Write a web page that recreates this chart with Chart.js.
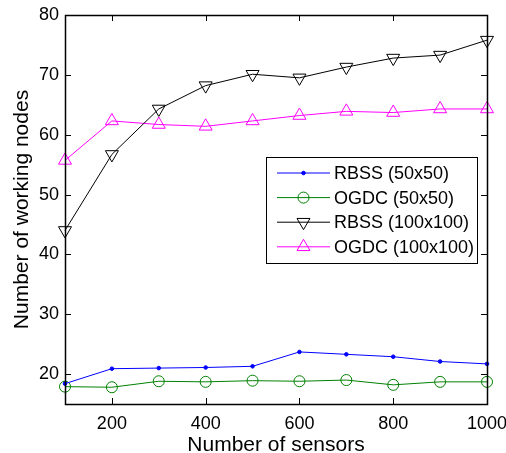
<!DOCTYPE html>
<html>
<head>
<meta charset="utf-8">
<script src="https://cdn.jsdelivr.net/npm/chart.js@4"></script>
<style>
html,body{margin:0;padding:0;background:#fff;}
#wrap{width:506px;height:453px;position:relative;}
</style>
</head>
<body>
<div id="wrap"><canvas id="c" width="506" height="453"></canvas></div>
<script>
const sensors = [100, 200, 300, 400, 500, 600, 700, 800, 900, 1000];
const rbss50 = [18.4, 20.9, 21.0, 21.1, 21.3, 23.7, 23.3, 22.9, 22.1, 21.7];
const ogdc50 = [17.9, 17.8, 18.8, 18.7, 18.9, 18.8, 19.0, 18.2, 18.7, 18.7];
const rbss100 = [44.0, 56.7, 64.3, 68.2, 70.1, 69.5, 71.3, 72.8, 73.3, 75.8];
const ogdc100 = [55.7, 62.3, 61.7, 61.4, 62.3, 63.2, 63.9, 63.7, 64.3, 64.3];
const xTicks = [200, 400, 600, 800, 1000];
const yTicks = [20, 30, 40, 50, 60, 70, 80];
const seriesNames = ['RBSS (50x50)', 'OGDC (50x50)', 'RBSS (100x100)', 'OGDC (100x100)'];

const FONT = 'Arial, "Liberation Sans", Helvetica, sans-serif';

function pts(ys){ return sensors.map((x,i)=>({x:x,y:ys[i]})); }

function mk(label, data, color, style, radius, rotation, fill){
  return {
    label: label, data: pts(data), borderColor: color, backgroundColor: fill || 'rgba(0,0,0,0)',
    borderWidth: 1, pointStyle: style, pointRadius: radius, pointHoverRadius: radius,
    pointRotation: rotation, pointBorderColor: color, pointBackgroundColor: fill || 'rgba(0,0,0,0)',
    pointBorderWidth: 1, tension: 0, clip: false
  };
}

const boxPlugin = {
  id: 'boxPlugin',
  afterDraw(chart){
    const ctx = chart.ctx, a = chart.chartArea;
    const xs = chart.scales.x, ys = chart.scales.y;
    ctx.save();
    ctx.strokeStyle = '#000';
    ctx.lineWidth = 1;
    ctx.beginPath();
    const tl = 6;
    xTicks.forEach(v=>{
      const px = Math.round(xs.getPixelForValue(v)) + 0.5;
      ctx.moveTo(px, a.bottom); ctx.lineTo(px, a.bottom - tl);
      ctx.moveTo(px, a.top); ctx.lineTo(px, a.top + tl);
    });
    yTicks.forEach(v=>{
      const py = Math.round(ys.getPixelForValue(v)) + 0.5;
      ctx.moveTo(a.left, py); ctx.lineTo(a.left + tl, py);
      ctx.moveTo(a.right, py); ctx.lineTo(a.right - tl, py);
    });
    ctx.stroke();
    ctx.lineWidth = 1.5;
    ctx.strokeRect(Math.round(a.left)+0.5, Math.round(a.top)+0.5, Math.round(a.right-a.left), Math.round(a.bottom-a.top));
    // legend
    const lx = a.left + 201, ly = a.top + 142, lw = 211, lh = 106;
    ctx.fillStyle = '#fff';
    ctx.fillRect(lx, ly, lw, lh);
    ctx.strokeStyle = '#000';
    ctx.lineWidth = 1;
    ctx.strokeRect(lx + 0.5, ly + 0.5, lw, lh);
    ctx.font = '18px ' + FONT;
    ctx.textBaseline = 'middle';
    ctx.textAlign = 'left';
    chart.data.datasets.forEach((ds, i)=>{
      const yy = ly + 16 + i * 24.6;
      ctx.strokeStyle = ds.borderColor;
      ctx.lineWidth = 1;
      ctx.beginPath();
      ctx.moveTo(lx + 11, yy); ctx.lineTo(lx + 64, yy);
      ctx.stroke();
      ctx.strokeStyle = ds.pointBorderColor;
      ctx.fillStyle = ds.pointBackgroundColor;
      Chart.helpers.drawPoint(ctx, {
        pointStyle: ds.pointStyle, radius: ds.pointRadius, rotation: ds.pointRotation,
        borderWidth: 1
      }, lx + 37.5, yy);
      ctx.fillStyle = '#000';
      ctx.fillText(ds.label, lx + 68, yy + 1);
    });
    ctx.restore();
  }
};

new Chart(document.getElementById('c'), {
  type: 'line',
  data: {
    datasets: [
      mk(seriesNames[0], rbss50, '#0000ff', 'circle', 1.8, 0, '#0000ff'),
      mk(seriesNames[1], ogdc50, '#008000', 'circle', 5.5, 0),
      mk(seriesNames[2], rbss100, '#000000', 'triangle', 7.5, 180),
      mk(seriesNames[3], ogdc100, '#ff00ff', 'triangle', 7.5, 0)
    ]
  },
  options: {
    responsive: false,
    animation: false,
    events: [],
    layout: { padding: { left: 0, right: 19, top: 15, bottom: 0 } },
    plugins: { legend: { display: false }, tooltip: { enabled: false } },
    scales: {
      x: {
        type: 'linear', min: 100, max: 1000,
        afterBuildTicks(s){ s.ticks = xTicks.map(v=>({value:v})); },
        afterFit(s){ s.height = 49; s.paddingLeft = 0; s.paddingRight = 0; },
        grid: { display: false, drawTicks: false },
        border: { display: false },
        ticks: { color: '#000', font: { size: 18, family: FONT }, padding: 9, maxRotation: 0, autoSkip: false,
                 callback: (v)=>String(v) },
        title: { display: true, text: 'Number of sensors', color: '#000', font: { size: 21, family: FONT, lineHeight: 0.7 }, padding: { top: 0, bottom: 0 } }
      },
      y: {
        type: 'linear', min: 15, max: 80,
        afterBuildTicks(s){ s.ticks = yTicks.map(v=>({value:v})); },
        afterFit(s){ s.width = 65; s.paddingTop = 0; s.paddingBottom = 0; },
        grid: { display: false, drawTicks: false },
        border: { display: false },
        ticks: { color: '#000', font: { size: 18, family: FONT }, padding: 6, autoSkip: false, callback: (v)=>String(v) },
        title: { display: true, text: 'Number of working nodes', color: '#000', font: { size: 21, family: FONT }, padding: { top: 10, bottom: 0 } }
      }
    }
  },
  plugins: [boxPlugin]
});
</script>
</body>
</html>
